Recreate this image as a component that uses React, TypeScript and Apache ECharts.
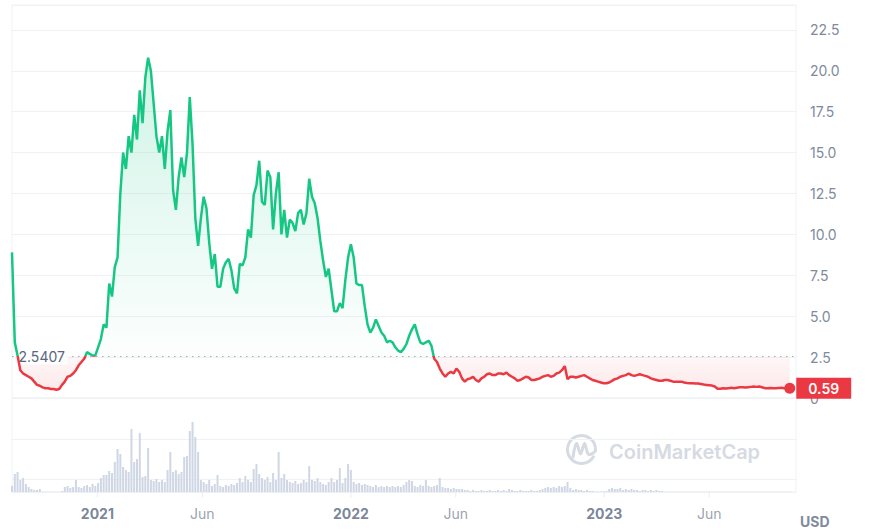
import React, { useEffect, useRef } from 'react';
import * as echarts from 'echarts';

// ---- data ----
const START_DATE = [2020, 7, 31];
const STEP_DAYS = 4;
const AXIS_MIN_DATE = [2020, 7, 31];
const AXIS_MAX_DATE = [2023, 9, 4];
const BASELINE = 2.5407;
const Y_MAX = 24.02;
const Y_INTERVAL = 2.5;
const X_TICK_DATES = [
  [2021, 0, 1], [2021, 5, 1], [2022, 0, 1], [2022, 5, 1], [2023, 0, 1], [2023, 5, 1],
];
const MONTHS = ['Jan', 'Feb', 'Mar', 'Apr', 'May', 'Jun', 'Jul', 'Aug', 'Sep', 'Oct', 'Nov', 'Dec'];
const CURRENCY = 'USD';
const WATERMARK = 'CoinMarketCap';

const PRICE = [
  8.9, 3.4, 2.6, 1.7, 1.5, 1.4, 1.3, 1.2, 1.0, 0.8,
  0.75, 0.65, 0.6, 0.6, 0.55, 0.55, 0.5, 0.55, 0.8, 1.0,
  1.3, 1.35, 1.5, 1.7, 2.0, 2.2, 2.4, 2.8, 2.7, 2.6,
  2.6, 3.1, 3.6, 4.5, 4.3, 7.0, 6.2, 8.0, 8.6, 12.5,
  15.0, 14.0, 16.0, 15.0, 17.3, 15.8, 18.8, 16.8, 19.6, 20.8,
  20.0, 18.0, 16.0, 15.0, 16.0, 14.0, 16.3, 17.6, 12.7, 11.5,
  13.5, 14.7, 13.5, 15.0, 18.4, 15.5, 11.0, 9.3, 11.0, 12.3,
  11.6, 9.5, 7.9, 8.8, 6.8, 6.8, 7.9, 8.3, 8.5, 7.8,
  6.7, 6.4, 8.2, 8.1, 8.6, 10.3, 9.8, 12.4, 13.0, 14.5,
  12.0, 11.8, 13.9, 13.5, 10.3, 12.5, 13.8, 10.0, 11.5, 9.8,
  10.9, 10.7, 10.2, 11.3, 11.5, 10.6, 11.3, 13.4, 12.3, 11.9,
  11.0, 9.6, 8.4, 7.4, 7.9, 6.6, 5.3, 5.3, 5.8, 5.5,
  7.2, 8.6, 9.4, 8.6, 7.0, 6.9, 6.9, 5.6, 4.5, 4.0,
  4.3, 4.8, 4.4, 4.0, 3.8, 3.4, 3.5, 3.4, 3.1, 2.9,
  2.8, 3.0, 3.3, 3.8, 4.2, 4.5, 3.9, 3.4, 3.3, 3.4,
  3.5, 3.2, 2.4, 2.2, 1.8, 1.5, 1.3, 1.5, 1.6, 1.5,
  1.8, 1.6, 1.2, 1.0, 1.15, 1.2, 1.3, 1.1, 1.0, 1.2,
  1.3, 1.45, 1.5, 1.4, 1.4, 1.5, 1.5, 1.45, 1.55, 1.4,
  1.3, 1.2, 1.05, 1.1, 1.2, 1.3, 1.25, 1.1, 1.1, 1.15,
  1.2, 1.3, 1.35, 1.4, 1.3, 1.35, 1.5, 1.55, 1.7, 1.95,
  1.15, 1.3, 1.3, 1.25, 1.3, 1.35, 1.4, 1.3, 1.2, 1.1,
  1.05, 1.0, 0.95, 0.9, 0.9, 0.95, 1.05, 1.15, 1.2, 1.3,
  1.35, 1.4, 1.5, 1.4, 1.35, 1.4, 1.45, 1.4, 1.35, 1.3,
  1.2, 1.15, 1.1, 1.05, 1.05, 1.1, 1.1, 1.05, 1.0, 1.0,
  1.0, 1.0, 0.95, 0.92, 0.9, 0.9, 0.88, 0.88, 0.85, 0.82,
  0.8, 0.78, 0.76, 0.7, 0.56, 0.57, 0.6, 0.58, 0.6, 0.62,
  0.6, 0.63, 0.65, 0.66, 0.64, 0.66, 0.68, 0.7, 0.68, 0.7,
  0.66, 0.6, 0.6, 0.61, 0.6, 0.6, 0.61, 0.62, 0.6, 0.6, 0.59,
];

const VOLUME = [
  6, 18, 20, 12, 14, 8, 5, 3, 2, 2,
  3, 0.5, 0.3, 0.3, 0.3, 0.3, 0.3, 0.3, 1, 5,
  6, 4, 5, 12, 5, 4, 6, 7, 5, 8,
  6, 9, 14, 17, 17, 21, 19, 30, 43, 38,
  25, 22, 20, 63, 30, 33, 59, 15, 16, 44,
  12, 11, 13, 10, 12, 10, 22, 40, 20, 22,
  18, 20, 35, 36, 61, 70, 55, 40, 12, 10,
  8, 12, 6, 8, 17, 6, 5, 7, 6, 8,
  7, 9, 14, 10, 16, 12, 10, 23, 28, 18,
  14, 12, 15, 10, 19, 12, 40, 14, 18, 12,
  10, 9, 11, 8, 9, 12, 10, 26, 12, 11,
  14, 10, 8, 7, 10, 14, 10, 12, 24, 9,
  14, 28, 22, 10, 8, 9, 7, 8, 7, 6,
  5, 7, 5, 6, 5, 6, 5, 6, 5, 6,
  5, 7, 10, 12, 11, 6, 5, 7, 6, 12,
  6, 5, 6, 7, 14, 5, 4, 4, 3, 4,
  3, 3, 3, 2, 2, 1, 2, 1, 1, 2,
  1, 1, 2, 1, 1, 2, 1, 2, 1, 3,
  2, 1, 1, 2, 1, 1, 1, 2, 1, 1,
  2, 3, 4, 5, 4, 5, 4, 6, 5, 6,
  10, 4, 2, 3, 2, 2, 1, 2, 1, 1,
  0.5, 0.5, 0.5, 0.5, 1, 3, 4, 3, 3, 4,
  2, 3, 2, 3, 2, 2, 1, 2, 2, 1,
  2, 1, 2, 1, 1, 0.3, 0.3, 0.3, 0.3, 0.3,
  0.3, 0.3, 0.3, 0.3, 0.3, 0.3, 0.3, 0.3, 0.3, 0.3,
  0.3, 0.3, 0.3, 0.3, 0.3, 0.3, 0.3, 0.3, 0.3, 0.3,
  0.3, 0.3, 0.3, 0.3, 0.3, 0.3, 0.3, 0.3, 0.3, 0.3,
  0.3, 0.3, 0.3, 0.3, 0.3, 0.3, 0.3, 0.3, 0.3, 0.3, 0.3,
];

// ---- styles ----
const GREEN = '#16c784';
const RED = '#ea3943';
const GRID_COLOR = '#eff2f5';
const LABEL_GREY = '#808a9d';
const LABEL_DARK = '#58667e';
const VOL_COLOR = '#cfd6e4';
const WM_COLOR = '#d6dae2';
const FONT = 'Inter, "Noto Sans", sans-serif';
const H = 530;

const DAY = 86400000;
const toMs = (d: number[]) => new Date(d[0], d[1], d[2]).getTime();

function buildOption(baseY: number): any {
  const start = toMs(START_DATE);
  const dates = PRICE.map((_, i) => start + i * STEP_DAYS * DAY);
  const priceData = PRICE.map((v, i) => [dates[i], v]);
  const volData = VOLUME.map((v, i) => [start + i * STEP_DAYS * DAY, v]);
  const last = priceData[priceData.length - 1];
  const tickData = X_TICK_DATES.map((d) => [toMs(d), 0]);
  const xMin = toMs(AXIS_MIN_DATE);
  const xMax = toMs(AXIS_MAX_DATE);
  const b = Math.min(Math.max(baseY / H, 0.01), 0.99);

  const lineColor = new echarts.graphic.LinearGradient(0, 0, 0, H, [
    { offset: 0, color: GREEN }, { offset: b, color: GREEN },
    { offset: b, color: RED }, { offset: 1, color: RED },
  ], true);
  const areaColor = new echarts.graphic.LinearGradient(0, 0, 0, H, [
    { offset: 0, color: 'rgba(22,199,132,0.24)' },
    { offset: 5 / H, color: 'rgba(22,199,132,0.24)' },
    { offset: b, color: 'rgba(22,199,132,0.01)' },
    { offset: b, color: 'rgba(234,57,67,0.04)' },
    { offset: Math.min(b + 40 / H, 1), color: 'rgba(234,57,67,0.13)' },
    { offset: 1, color: 'rgba(234,57,67,0.13)' },
  ], true);

  const hiddenX = {
    axisLabel: { show: false }, axisTick: { show: false }, axisLine: { show: false }, splitLine: { show: false },
  };

  return {
    animation: false,
    textStyle: { fontFamily: FONT },
    grid: [
      { left: 12, top: 5, width: 784, height: 393, show: true, borderColor: GRID_COLOR, borderWidth: 1 },
      { left: 12, top: 398, width: 784, height: 94, show: true, borderColor: GRID_COLOR, borderWidth: 1 },
    ],
    xAxis: [
      { type: 'value', gridIndex: 0, min: xMin, max: xMax, ...hiddenX },
      { type: 'value', gridIndex: 1, min: xMin, max: xMax, ...hiddenX },
    ],
    yAxis: [
      {
        type: 'value', gridIndex: 0, position: 'right', min: 0, max: Y_MAX, interval: Y_INTERVAL,
        axisLine: { show: false }, axisTick: { show: false },
        splitLine: { show: true, lineStyle: { color: GRID_COLOR, width: 1 } },
        axisLabel: {
          show: true, margin: 14, fontSize: 14, color: LABEL_GREY, fontFamily: FONT,
          showMaxLabel: false,
          formatter: (v: number) => (v > 23 ? '' : v === 0 ? '0' : v.toFixed(1)),
        },
      },
      {
        type: 'value', gridIndex: 1, inverse: true, min: 0, max: 5.75, interval: Y_INTERVAL,
        axisLine: { show: false }, axisTick: { show: false }, axisLabel: { show: false },
        splitLine: { show: true, lineStyle: { color: GRID_COLOR, width: 1 } },
      },
      {
        type: 'value', gridIndex: 1, min: 0, max: 94,
        axisLine: { show: false }, axisTick: { show: false }, axisLabel: { show: false }, splitLine: { show: false },
      },
    ],
    graphic: [
      {
        type: 'arc', z: 0, silent: true,
        shape: { cx: 581.5, cy: 449.5, r: 14, startAngle: 0.55, endAngle: Math.PI * 2 + 0.05, clockwise: true },
        style: { stroke: WM_COLOR, lineWidth: 3, fill: 'none', lineCap: 'round' },
      },
      {
        type: 'polyline', z: 0, silent: true,
        shape: { points: [[573, 457], [576.5, 443.5], [580.5, 454], [584.5, 443.5], [588, 454], [591.5, 454], [595.5, 451]], smooth: 0.35 },
        style: { stroke: WM_COLOR, lineWidth: 3, fill: 'none', lineCap: 'round', lineJoin: 'round' },
      },
      {
        type: 'text', z: 0, silent: true, x: 609, y: 452,
        style: { text: WATERMARK, fill: WM_COLOR, font: '600 20px ' + FONT, verticalAlign: 'middle' },
      },
      {
        type: 'text', z: 10, silent: true, x: 800, y: 521,
        style: { text: CURRENCY, fill: LABEL_GREY, font: 'bold 14px ' + FONT, verticalAlign: 'middle' },
      },
    ],
    series: [
      {
        type: 'line', xAxisIndex: 0, yAxisIndex: 0, data: priceData, showSymbol: false, symbol: 'none',
        lineStyle: { width: 2.5, color: lineColor }, itemStyle: { color: GREEN }, z: 5,
        areaStyle: { origin: BASELINE, color: areaColor, opacity: 1 },
        markLine: {
          silent: true, symbol: 'none',
          label: { show: false },
          lineStyle: { color: '#a3abb9', type: [1.5, 4.5], width: 1 },
          data: [{ yAxis: BASELINE }],
        },
        markPoint: {
          silent: true,
          data: [
            {
              coord: [dates[0], BASELINE], symbol: 'rect', symbolSize: [1, 1],
              itemStyle: { color: 'rgba(0,0,0,0)' },
              label: {
                show: true, position: 'right', distance: 3, formatter: String(BASELINE),
                color: LABEL_DARK, fontSize: 14, fontFamily: FONT,
                backgroundColor: 'rgba(255,255,255,0.85)', padding: [1, 3, 1, 3],
              },
            },
            {
              coord: last, symbol: 'circle', symbolSize: 11,
              itemStyle: { color: RED },
              label: {
                show: true, position: 'right', distance: 1, formatter: last[1].toFixed(2),
                color: '#ffffff', fontSize: 14, fontWeight: 600, fontFamily: FONT,
                backgroundColor: RED, padding: [3, 12, 3, 12], lineHeight: 15,
              },
            },
          ],
        },
      },
      {
        type: 'bar', xAxisIndex: 1, yAxisIndex: 2, data: volData, barWidth: 2, silent: true,
        itemStyle: { color: VOL_COLOR }, z: 1,
      },
      {
        type: 'scatter', xAxisIndex: 1, yAxisIndex: 2, data: tickData, silent: true, clip: false,
        symbol: 'rect', symbolSize: [1, 5], symbolOffset: [0, 3], itemStyle: { color: '#e3e7ec' }, z: 1,
        label: {
          show: true, position: 'bottom', distance: 9, fontSize: 14, fontFamily: FONT,
          formatter: (p: any) => {
            const d = new Date(p.value[0]);
            return d.getMonth() === 0 ? '{y|' + d.getFullYear() + '}' : '{m|' + MONTHS[d.getMonth()] + '}';
          },
          rich: {
            y: { fontSize: 14, fontWeight: 'bold', color: LABEL_DARK, fontFamily: FONT },
            m: { fontSize: 14, color: LABEL_GREY, fontFamily: FONT },
          },
        },
      },
    ],
  };
}

export default function App() {
  const ref = useRef<HTMLDivElement>(null);

  useEffect(() => {
    if (!ref.current) return;
    const chart = echarts.init(ref.current, undefined, { renderer: 'svg' });
    const fallbackBaseY = 398 - (BASELINE / Y_MAX) * 393;
    chart.setOption(buildOption(fallbackBaseY));
    const px = chart.convertToPixel({ yAxisIndex: 0 } as any, BASELINE) as any;
    const baseY = typeof px === 'number' && isFinite(px) ? px : fallbackBaseY;
    chart.setOption(buildOption(baseY), { notMerge: true });
    return () => chart.dispose();
  }, []);

  return (
    <div
      ref={ref}
      style={{ position: 'fixed', left: 0, top: 0, width: 869, height: 530, background: '#ffffff' }}
    />
  );
}
